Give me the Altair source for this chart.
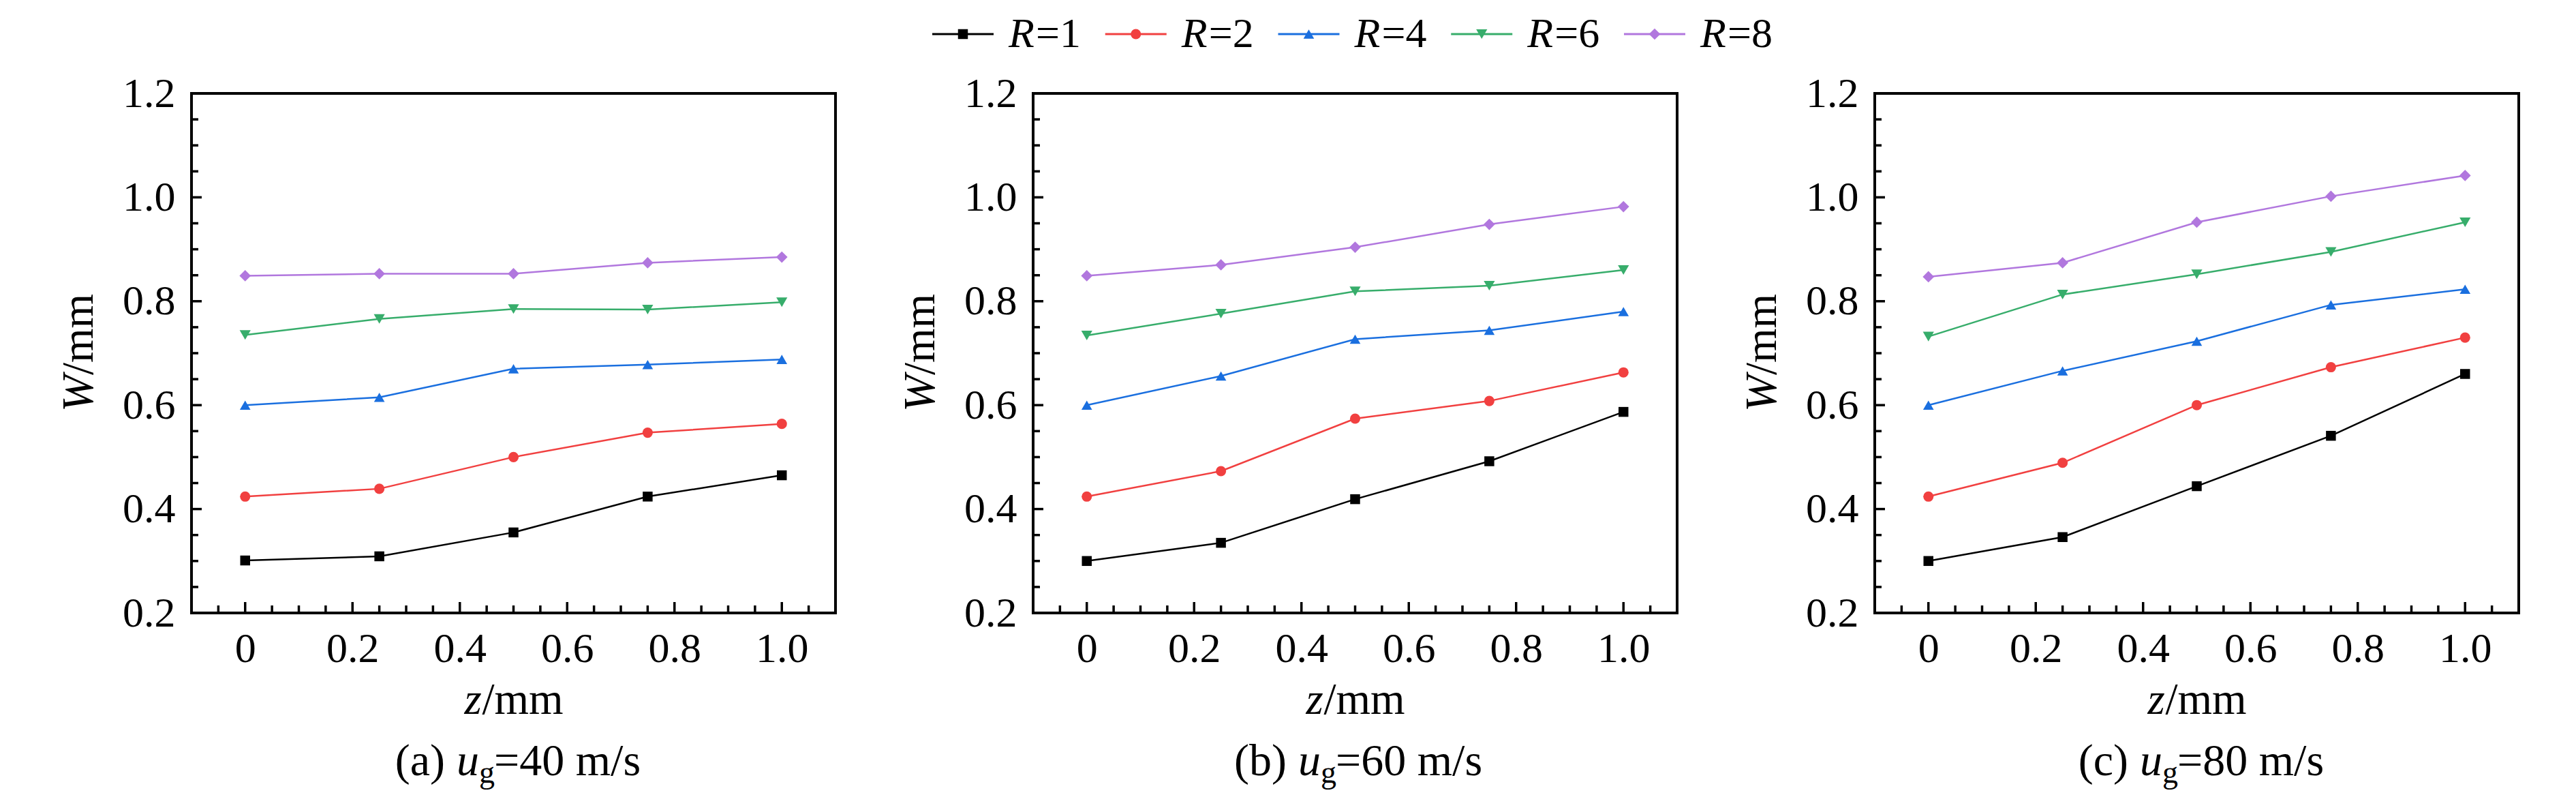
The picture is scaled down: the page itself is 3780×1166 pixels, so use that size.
import altair as alt
import pandas as pd

# ---------------- data ----------------
Z_VALS = [0, 0.25, 0.5, 0.75, 1.0]
R_VALS = [1, 2, 4, 6, 8]
COLORS = ["#000000", "#F14040", "#1A6FDF", "#37AD6B", "#B177DE"]
SHAPES = ["square", "circle", "triangle-up", "triangle-down", "diamond"]

W_40 = {
    1: [0.301, 0.309, 0.355, 0.424, 0.465],
    2: [0.424, 0.439, 0.500, 0.547, 0.564],
    4: [0.600, 0.615, 0.670, 0.678, 0.688],
    6: [0.735, 0.766, 0.785, 0.784, 0.798],
    8: [0.849, 0.853, 0.853, 0.874, 0.885],
}
W_60 = {
    1: [0.300, 0.335, 0.419, 0.492, 0.587],
    2: [0.424, 0.473, 0.574, 0.608, 0.663],
    4: [0.600, 0.656, 0.727, 0.744, 0.780],
    6: [0.734, 0.776, 0.819, 0.830, 0.860],
    8: [0.849, 0.870, 0.904, 0.948, 0.982],
}
W_80 = {
    1: [0.300, 0.346, 0.444, 0.541, 0.660],
    2: [0.424, 0.489, 0.600, 0.673, 0.730],
    4: [0.600, 0.666, 0.723, 0.793, 0.823],
    6: [0.732, 0.813, 0.852, 0.895, 0.952],
    8: [0.847, 0.874, 0.952, 1.002, 1.042],
}

PANEL_TAGS = ["(a)", "(b)", "(c)"]
PANEL_SPEEDS = ["=40 m/s", "=60 m/s", "=80 m/s"]
SPEED_VAR = "u"
SPEED_SUB = "g"
X_VAR, Y_VAR, UNIT = "z", "W", "/mm"
LEGEND_VAR = "R"
LEGEND_VALS = ["=" + str(r) for r in R_VALS]

X_LABELS = [0, 0.2, 0.4, 0.6, 0.8, 1.0]
X_MINOR = [-0.05, 0.05, 0.1, 0.15, 0.25, 0.3, 0.35, 0.45, 0.5, 0.55,
           0.65, 0.7, 0.75, 0.85, 0.9, 0.95, 1.05]
Y_LABELS = [0.2, 0.4, 0.6, 0.8, 1.0, 1.2]
Y_MAJOR = [0.4, 0.6, 0.8, 1.0]
Y_MINOR = [0.25, 0.3, 0.35, 0.45, 0.5, 0.55, 0.65, 0.7, 0.75,
           0.85, 0.9, 0.95, 1.05, 1.1, 1.15]

# ---------------- style ----------------
FONT = "Liberation Serif"
W_PX, H_PX = 945, 762
SIZES = [210, 280, 380, 380, 330]
LEG_LINE_Y, LEG_TEXT_Y, LEG_FS = -87, -68, 62

xscale = alt.Scale(domain=[-0.1, 1.1], nice=False, zero=False)
yscale = alt.Scale(domain=[0.2, 1.2], nice=False, zero=False)

x_axis = alt.Axis(values=X_LABELS, title=None, ticks=False, tickSize=0, domain=False,
                  grid=False, labelFont=FONT, labelFontSize=62, labelColor="black",
                  labelPadding=22, labelFlush=False, labelOverlap=False,
                  labelExpr="datum.value == 0 ? '0' : format(datum.value, '.1f')")
y_axis = alt.Axis(values=Y_LABELS, title=None, ticks=False, tickSize=0, domain=False,
                  grid=False, labelFont=FONT, labelFontSize=62, labelColor="black",
                  labelPadding=24, labelFlush=False, labelOverlap=False, format=".1f")

color = alt.Color("R:O", scale=alt.Scale(domain=R_VALS, range=COLORS), legend=None)
shape = alt.Shape("R:O", scale=alt.Scale(domain=R_VALS, range=SHAPES), legend=None)
size = alt.Size("R:O", scale=alt.Scale(domain=R_VALS, range=SIZES), legend=None)


def text_piece(s, x, y, italic=False, fs=65, align="left", angle=0, baseline="alphabetic"):
    return alt.Chart(pd.DataFrame({"s": [s]})).mark_text(
        font=FONT, fontSize=fs, fontStyle="italic" if italic else "normal",
        align=align, baseline=baseline, angle=angle, color="black"
    ).encode(text="s:N", x=alt.value(x), y=alt.value(y))


def tick_layers(xax):
    out = []
    for vals, ln in [(X_LABELS, 16), (X_MINOR, 11)]:
        out.append(alt.Chart(pd.DataFrame({"t": vals})).mark_rule(color="black", strokeWidth=3.5)
                   .encode(x=alt.X("t:Q", scale=xscale, axis=xax),
                           y=alt.value(H_PX), y2=alt.value(H_PX - ln)))
    for vals, ln in [(Y_MAJOR, 15), (Y_MINOR, 10)]:
        out.append(alt.Chart(pd.DataFrame({"t": vals})).mark_rule(color="black", strokeWidth=3.5)
                   .encode(y=alt.Y("t:Q", scale=yscale, axis=y_axis),
                           x=alt.value(0), x2=alt.value(ln)))
    return out


def panel(values, i, with_legend=False):
    # with an independent x scale only the line layer carries the x axis
    xax_other = None if with_legend else x_axis
    df = pd.DataFrame([{"z": z, "W": w, "R": r}
                       for r in R_VALS for z, w in zip(Z_VALS, values[r])])
    lines = alt.Chart(df).mark_line(strokeWidth=2.5).encode(
        x=alt.X("z:Q", scale=xscale, axis=x_axis),
        y=alt.Y("W:Q", scale=yscale, axis=y_axis),
        color=color,
    )
    points = alt.Chart(df).mark_point(filled=True, opacity=1, strokeWidth=0).encode(
        x=alt.X("z:Q", scale=xscale, axis=xax_other),
        y=alt.Y("W:Q", scale=yscale, axis=y_axis),
        color=color, shape=shape, size=size,
    )
    cx = W_PX / 2
    texts = [
        # x title
        text_piece(X_VAR, cx - 72, H_PX + 148, italic=True),
        text_piece(UNIT, cx - 72 + 26, H_PX + 148),
        # y title (rotated)
        text_piece(Y_VAR, -165, H_PX / 2 + 86, italic=True, angle=270, baseline="middle"),
        text_piece(UNIT, -165, H_PX / 2 + 86 - 54, angle=270, baseline="middle"),
        # caption
        text_piece(PANEL_TAGS[i], cx - 83.5 - 17, H_PX + 238, fs=66, align="right"),
        text_piece(SPEED_VAR, cx - 83.5, H_PX + 238, italic=True, fs=66),
        text_piece(SPEED_SUB, cx - 83.5 + 33, H_PX + 249, fs=46),
        text_piece(PANEL_SPEEDS[i], cx - 83.5 + 55, H_PX + 238, fs=66),
    ]
    layers = [lines, points] + tick_layers(xax_other) + texts
    if with_legend:
        ldf = pd.DataFrame({"R": R_VALS, "v": [LEGEND_VAR] * len(R_VALS), "val": LEGEND_VALS})
        lx = alt.X("R:O", scale=alt.Scale(type="point", domain=R_VALS, range=[-103, 912],
                                          padding=0), axis=None)
        lx2 = alt.X2("R:O")
        leg_line = alt.Chart(ldf).mark_rule(strokeWidth=3, xOffset=-45, x2Offset=45).encode(
            x=lx, x2=lx2, y=alt.value(LEG_LINE_Y), color=color)
        leg_pt = alt.Chart(ldf).mark_point(filled=True, opacity=1, strokeWidth=0).encode(
            x=lx, y=alt.value(LEG_LINE_Y), color=color, shape=shape, size=size)
        leg_r = alt.Chart(ldf).mark_text(font=FONT, fontSize=LEG_FS, fontStyle="italic",
                                         align="left", baseline="alphabetic", dx=67,
                                         color="black").encode(
            x=lx, y=alt.value(LEG_TEXT_Y), text="v:N")
        leg_v = alt.Chart(ldf).mark_text(font=FONT, fontSize=LEG_FS, align="left",
                                         baseline="alphabetic", dx=107,
                                         color="black").encode(
            x=lx, y=alt.value(LEG_TEXT_Y), text="val:N")
        layers += [leg_line, leg_pt, leg_r, leg_v]
    ch = alt.layer(*layers).properties(width=W_PX, height=H_PX)
    if with_legend:
        ch = ch.resolve_scale(x="independent")
    return ch


chart = alt.hconcat(
    panel(W_40, 0),
    panel(W_60, 1, with_legend=True),
    panel(W_80, 2),
    spacing=290,
    bounds="flush",
).properties(
    padding={"left": 74, "top": 9, "right": 10, "bottom": 0}
).configure(
    background="white"
).configure_view(
    stroke="black", strokeWidth=4
)

chart.save("out.html", embed_options={"renderer": "svg", "actions": False})
